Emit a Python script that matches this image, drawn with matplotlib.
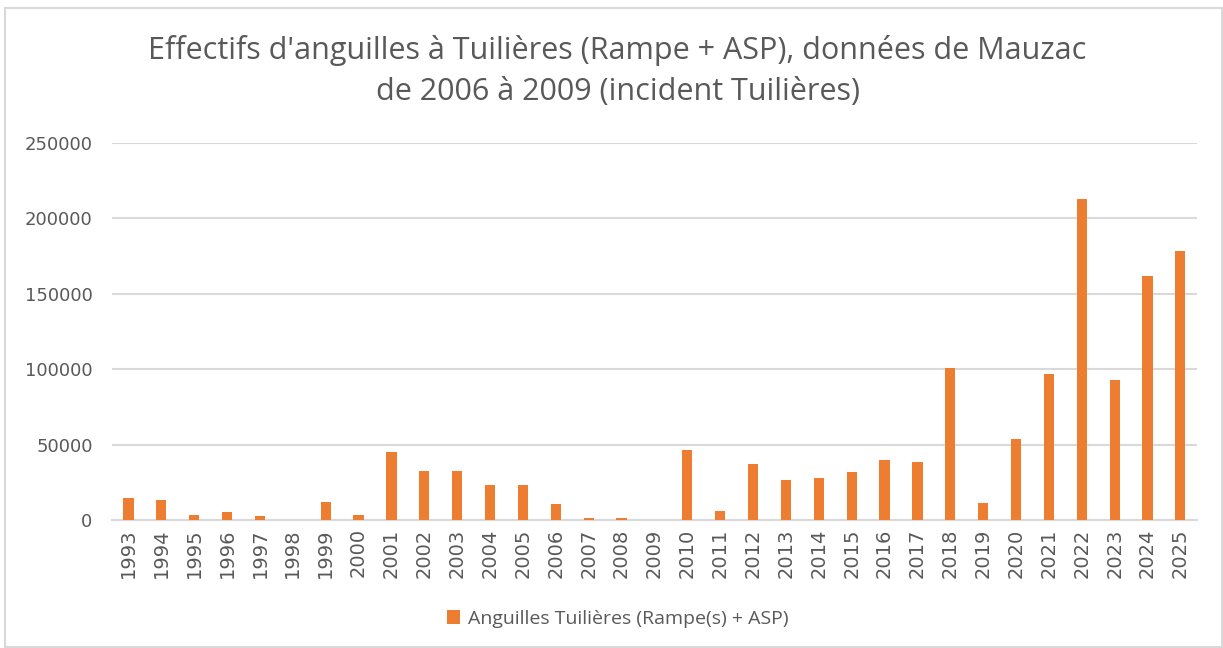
import matplotlib.pyplot as plt
from matplotlib.patches import Rectangle

# annual counts
years = list(range(1993, 2026))
counts = [14500, 13000, 3000, 5000, 2800, 0, 12100, 3000, 44900, 32700,
          32700, 23200, 23200, 10400, 1100, 1100, 0, 46400, 6000, 36900,
          26500, 28000, 32000, 40000, 38700, 100700, 11500, 53900, 96700, 212900,
          92800, 161900, 178700]
y_ticks = [0, 50000, 100000, 150000, 200000, 250000]

title = "Effectifs d'anguilles à Tuilières (Rampe + ASP), données de Mauzac\nde 2006 à 2009 (incident Tuilières)"
legend_label = "Anguilles Tuilières (Rampe(s) + ASP)"

grey = '#595959'
orange = '#ED7D31'
grid = '#d9d9d9'

plt.rcParams['font.family'] = ['Open Sans', 'DejaVu Sans']

fig = plt.figure(figsize=(12.23, 6.48), dpi=100)
ax = fig.add_axes([0.0916, 0.1975, 0.887, 0.5818])

x = list(range(len(years)))
ax.bar(x, counts, width=0.31, color=orange, label=legend_label, zorder=3)

ax.set_xlim(-0.5, len(years) - 0.5)
ax.set_ylim(0, 250000)
ax.set_yticks(y_ticks)
ax.set_yticklabels([str(v) for v in y_ticks], fontsize=13, color=grey, family='DejaVu Sans')
ax.set_xticks(x)
ax.set_xticklabels([str(yr) for yr in years], rotation=90, fontsize=14, color=grey,
                   family='DejaVu Sans')
ax.tick_params(axis='both', length=0)
ax.tick_params(axis='y', pad=14)
ax.tick_params(axis='x', pad=6)
ax.grid(axis='y', color=grid, linewidth=1.5, zorder=0)
for s in ['top', 'right', 'left']:
    ax.spines[s].set_visible(False)
ax.spines['bottom'].set_color(grid)
ax.spines['bottom'].set_linewidth(1.5)

fig.text(0.505, 0.890, title, ha='center', va='center', fontsize=22,
         color=grey, linespacing=1.49)

fig.legend(loc='center', bbox_to_anchor=(0.505, 0.045), frameon=False,
           labelcolor=grey, handlelength=0.7, handleheight=0.7,
           handletextpad=0.4, prop={'size': 14})

fig.patches.append(Rectangle((0.004, 0.002), 0.995, 0.985, transform=fig.transFigure,
                             fill=False, edgecolor=grid, linewidth=1.5))

fig.savefig('out.png', dpi=100)
